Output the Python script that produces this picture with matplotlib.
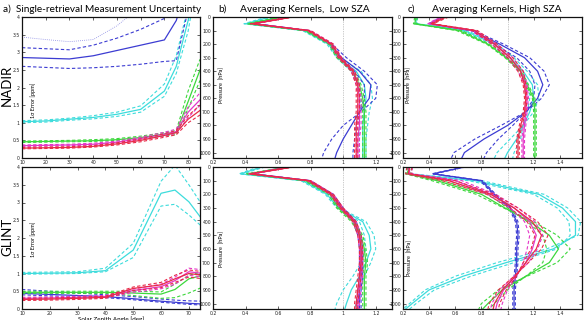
import matplotlib
matplotlib.use("Agg")
import matplotlib.pyplot as plt
from matplotlib.ticker import FormatStrFormatter

# ---- data ----
# each entry: (solid, dashed_a, dashed_b)
nadir_sza = [10, 20, 30, 40, 50, 60, 70, 75, 80, 85]
nadir_err = {
    "cyan": ([1.03, 1.05, 1.10, 1.15, 1.24, 1.38, 1.90, 2.60, 3.90, 5.5],
             [1.06, 1.08, 1.13, 1.20, 1.30, 1.48, 2.10, 2.90, 4.30, 6.0],
             [1.00, 1.02, 1.07, 1.11, 1.18, 1.30, 1.75, 2.40, 3.60, 5.5]),
    "blue": ([2.85, 2.83, 2.81, 2.90, 3.05, 3.20, 3.35, 3.90, 5.0, 6.0],
             [3.13, 3.10, 3.07, 3.20, 3.40, 3.65, 3.96, 4.80, 6.0, 7.0],
             [2.60, 2.57, 2.54, 2.56, 2.60, 2.66, 2.74, 2.76, 4.2, 6.0]),
    "green": ([0.46, 0.47, 0.48, 0.49, 0.52, 0.58, 0.68, 0.73, 1.60, 2.50],
              [0.48, 0.49, 0.50, 0.52, 0.55, 0.62, 0.72, 0.78, 1.90, 2.80],
              [0.44, 0.45, 0.46, 0.47, 0.50, 0.55, 0.63, 0.66, 1.40, 2.20]),
    "magenta": ([0.35, 0.36, 0.37, 0.39, 0.45, 0.55, 0.68, 0.75, 1.30, 1.65],
                [0.37, 0.38, 0.39, 0.42, 0.48, 0.59, 0.73, 0.82, 1.45, 1.85],
                [0.33, 0.34, 0.35, 0.37, 0.42, 0.51, 0.63, 0.70, 1.15, 1.50]),
    "red": ([0.28, 0.29, 0.30, 0.33, 0.40, 0.50, 0.64, 0.72, 1.10, 1.35],
            [0.30, 0.31, 0.32, 0.35, 0.43, 0.54, 0.69, 0.78, 1.20, 1.50],
            [0.26, 0.27, 0.28, 0.31, 0.37, 0.46, 0.59, 0.66, 1.00, 1.22]),
}
nadir_blue_dotted = [3.43, 3.36, 3.30, 3.36, 3.75, 4.3, 5.0, 6.0, 7.0, 8.0]

glint_sza = [10, 20, 30, 40, 50, 60, 65, 70, 75]
glint_err = {
    "cyan": ([1.00, 1.01, 1.02, 1.08, 1.66, 3.26, 3.35, 3.02, 2.50],
             [1.03, 1.04, 1.05, 1.15, 1.85, 3.60, 4.05, 3.50, 2.90],
             [0.98, 0.99, 1.00, 1.05, 1.45, 2.90, 2.95, 2.65, 2.30]),
    "blue": ([0.44, 0.41, 0.38, 0.35, 0.29, 0.22, 0.19, 0.16, 0.14],
             [0.55, 0.50, 0.45, 0.40, 0.35, 0.28, 0.25, 0.23, 0.22],
             [0.40, 0.37, 0.34, 0.32, 0.26, 0.19, 0.16, 0.13, 0.11]),
    "green": ([0.47, 0.47, 0.47, 0.47, 0.45, 0.42, 0.55, 0.85, 0.95],
              [0.50, 0.50, 0.50, 0.50, 0.50, 0.48, 0.70, 0.95, 1.05],
              [0.44, 0.44, 0.44, 0.44, 0.38, 0.30, 0.32, 0.45, 0.62]),
    "magenta": ([0.30, 0.31, 0.33, 0.35, 0.52, 0.63, 0.80, 1.05, 1.00],
                [0.33, 0.34, 0.36, 0.38, 0.56, 0.70, 0.90, 1.15, 1.10],
                [0.27, 0.28, 0.30, 0.32, 0.47, 0.57, 0.70, 0.95, 0.90]),
    "red": ([0.27, 0.28, 0.30, 0.33, 0.58, 0.68, 0.85, 1.00, 0.95],
            [0.30, 0.31, 0.33, 0.36, 0.62, 0.75, 0.95, 1.10, 1.05],
            [0.24, 0.25, 0.27, 0.30, 0.52, 0.60, 0.75, 0.90, 0.85]),
}

pressure = [0, 50, 100, 200, 300, 400, 500, 600, 700, 800, 900, 1000, 1040]

ak_low_nadir = {
    "cyan": ([0.55, 0.40, 0.76, 0.91, 0.97, 1.08, 1.13, 1.14, 1.13, 1.12, 1.12, 1.12, 1.12],
             [0.57, 0.41, 0.77, 0.92, 0.98, 1.11, 1.17, 1.18, 1.16, 1.15, 1.14, 1.14, 1.14],
             [0.53, 0.39, 0.75, 0.90, 0.96, 1.05, 1.10, 1.11, 1.10, 1.10, 1.10, 1.10, 1.10]),
    "blue": ([0.60, 0.46, 0.78, 0.92, 0.99, 1.10, 1.17, 1.16, 1.10, 1.05, 1.00, 0.96, 0.95],
             [0.60, 0.46, 0.78, 0.93, 1.02, 1.13, 1.21, 1.20, 1.11, 1.00, 0.93, 0.88, 0.87],
             [0.60, 0.46, 0.78, 0.92, 0.97, 1.07, 1.13, 1.13, 1.10, 1.08, 1.07, 1.06, 1.06]),
    "green": ([0.62, 0.42, 0.77, 0.92, 0.97, 1.06, 1.10, 1.12, 1.13, 1.13, 1.13, 1.13, 1.13],
              [0.63, 0.43, 0.78, 0.93, 0.98, 1.07, 1.11, 1.13, 1.14, 1.14, 1.14, 1.14, 1.14],
              [0.61, 0.41, 0.76, 0.91, 0.96, 1.05, 1.09, 1.11, 1.12, 1.12, 1.12, 1.12, 1.12]),
    "magenta": ([0.68, 0.45, 0.79, 0.93, 0.98, 1.06, 1.09, 1.10, 1.10, 1.10, 1.09, 1.09, 1.09],
                [0.69, 0.46, 0.80, 0.94, 0.99, 1.07, 1.10, 1.11, 1.11, 1.11, 1.10, 1.10, 1.10],
                [0.67, 0.44, 0.78, 0.92, 0.97, 1.05, 1.08, 1.09, 1.09, 1.09, 1.08, 1.08, 1.08]),
    "red": ([0.69, 0.44, 0.79, 0.93, 0.98, 1.06, 1.09, 1.09, 1.09, 1.08, 1.08, 1.08, 1.08],
            [0.70, 0.45, 0.80, 0.94, 0.99, 1.07, 1.10, 1.10, 1.10, 1.09, 1.09, 1.09, 1.09],
            [0.68, 0.43, 0.78, 0.92, 0.97, 1.05, 1.08, 1.08, 1.08, 1.07, 1.07, 1.07, 1.07]),
}

ak_low_glint = {
    "cyan": ([0.50, 0.37, 0.75, 0.90, 0.97, 1.12, 1.16, 1.17, 1.14, 1.10, 1.05, 1.02, 1.01],
             [0.52, 0.38, 0.76, 0.91, 0.98, 1.14, 1.19, 1.20, 1.17, 1.13, 1.10, 1.08, 1.07],
             [0.48, 0.36, 0.74, 0.89, 0.96, 1.10, 1.13, 1.14, 1.11, 1.06, 1.00, 0.96, 0.95]),
    "blue": ([0.65, 0.44, 0.79, 0.93, 0.99, 1.07, 1.10, 1.11, 1.11, 1.11, 1.10, 1.10, 1.10],
             [0.66, 0.45, 0.80, 0.94, 1.00, 1.08, 1.11, 1.12, 1.12, 1.12, 1.11, 1.11, 1.11],
             [0.64, 0.43, 0.78, 0.92, 0.98, 1.06, 1.09, 1.10, 1.10, 1.10, 1.09, 1.09, 1.09]),
    "green": ([0.67, 0.41, 0.77, 0.92, 0.97, 1.06, 1.11, 1.13, 1.14, 1.13, 1.13, 1.13, 1.13],
              [0.68, 0.42, 0.78, 0.93, 0.98, 1.07, 1.12, 1.14, 1.15, 1.14, 1.14, 1.14, 1.14],
              [0.66, 0.40, 0.76, 0.91, 0.96, 1.05, 1.10, 1.12, 1.13, 1.12, 1.12, 1.12, 1.12]),
    "magenta": ([0.68, 0.43, 0.79, 0.93, 0.99, 1.07, 1.10, 1.11, 1.11, 1.11, 1.10, 1.09, 1.09],
                [0.69, 0.44, 0.80, 0.94, 1.00, 1.08, 1.11, 1.12, 1.12, 1.12, 1.11, 1.10, 1.10],
                [0.67, 0.42, 0.78, 0.92, 0.98, 1.06, 1.09, 1.10, 1.10, 1.10, 1.09, 1.08, 1.08]),
    "red": ([0.69, 0.43, 0.79, 0.93, 0.99, 1.07, 1.10, 1.11, 1.11, 1.10, 1.09, 1.08, 1.08],
            [0.70, 0.44, 0.80, 0.94, 1.00, 1.08, 1.11, 1.12, 1.12, 1.11, 1.10, 1.09, 1.09],
            [0.68, 0.42, 0.78, 0.92, 0.98, 1.06, 1.09, 1.10, 1.10, 1.09, 1.08, 1.07, 1.07]),
}

ak_high_nadir = {
    "cyan": ([0.30, 0.30, 0.67, 0.90, 1.02, 1.12, 1.19, 1.20, 1.17, 1.12, 1.07, 1.00, 0.98],
             [0.31, 0.31, 0.69, 0.92, 1.05, 1.15, 1.23, 1.24, 1.20, 1.12, 1.02, 0.92, 0.90],
             [0.29, 0.29, 0.65, 0.88, 0.99, 1.10, 1.16, 1.17, 1.15, 1.12, 1.10, 1.05, 1.04]),
    "blue": ([0.50, 0.40, 0.73, 0.94, 1.13, 1.23, 1.27, 1.23, 1.14, 1.00, 0.82, 0.67, 0.65],
             [0.50, 0.40, 0.74, 0.97, 1.17, 1.28, 1.32, 1.26, 1.14, 0.95, 0.75, 0.59, 0.57],
             [0.50, 0.40, 0.72, 0.90, 1.07, 1.17, 1.21, 1.20, 1.14, 1.04, 0.93, 0.84, 0.82]),
    "green": ([0.30, 0.29, 0.63, 0.85, 0.99, 1.10, 1.15, 1.20, 1.21, 1.21, 1.21, 1.21, 1.21],
              [0.31, 0.30, 0.65, 0.86, 1.00, 1.11, 1.16, 1.21, 1.22, 1.22, 1.22, 1.22, 1.22],
              [0.29, 0.28, 0.61, 0.84, 0.98, 1.09, 1.14, 1.19, 1.20, 1.20, 1.20, 1.20, 1.20]),
    "magenta": ([0.50, 0.40, 0.74, 0.90, 1.02, 1.10, 1.14, 1.15, 1.14, 1.13, 1.12, 1.12, 1.12],
                [0.52, 0.41, 0.76, 0.92, 1.04, 1.12, 1.15, 1.16, 1.15, 1.14, 1.13, 1.13, 1.13],
                [0.48, 0.39, 0.72, 0.88, 1.00, 1.08, 1.13, 1.14, 1.13, 1.12, 1.11, 1.11, 1.11]),
    "red": ([0.53, 0.42, 0.75, 0.90, 1.02, 1.10, 1.13, 1.14, 1.13, 1.10, 1.08, 1.08, 1.08],
            [0.55, 0.43, 0.77, 0.92, 1.04, 1.12, 1.14, 1.15, 1.14, 1.11, 1.09, 1.09, 1.09],
            [0.51, 0.41, 0.73, 0.88, 1.00, 1.08, 1.12, 1.13, 1.12, 1.09, 1.07, 1.07, 1.07]),
}

ak_high_glint = {
    "cyan": ([0.25, 0.24, 0.75, 1.24, 1.42, 1.52, 1.52, 1.35, 0.99, 0.66, 0.40, 0.27, 0.22],
             [0.27, 0.26, 0.80, 1.28, 1.46, 1.56, 1.54, 1.30, 0.92, 0.60, 0.37, 0.25, 0.20],
             [0.23, 0.22, 0.70, 1.20, 1.38, 1.47, 1.48, 1.38, 1.05, 0.72, 0.44, 0.30, 0.25]),
    "blue": ([0.67, 0.43, 0.80, 0.90, 1.02, 1.07, 1.08, 1.07, 1.07, 1.06, 1.05, 1.05, 1.05],
             [0.68, 0.44, 0.81, 0.91, 1.03, 1.08, 1.09, 1.08, 1.08, 1.07, 1.06, 1.06, 1.06],
             [0.66, 0.42, 0.79, 0.89, 1.01, 1.06, 1.07, 1.06, 1.06, 1.05, 1.04, 1.04, 1.04]),
    "green": ([0.25, 0.23, 0.46, 0.80, 0.98, 1.17, 1.32, 1.39, 1.32, 1.14, 0.96, 0.85, 0.81],
              [0.24, 0.22, 0.42, 0.76, 0.97, 1.20, 1.38, 1.48, 1.38, 1.15, 0.93, 0.80, 0.78],
              [0.27, 0.25, 0.50, 0.85, 1.00, 1.15, 1.27, 1.30, 1.27, 1.14, 1.00, 0.90, 0.86]),
    "magenta": ([0.25, 0.25, 0.60, 0.88, 1.05, 1.17, 1.22, 1.19, 1.14, 1.06, 0.97, 0.92, 0.91],
                [0.27, 0.27, 0.65, 0.91, 1.08, 1.21, 1.27, 1.23, 1.16, 1.05, 0.94, 0.88, 0.87],
                [0.24, 0.24, 0.55, 0.85, 1.02, 1.13, 1.17, 1.15, 1.12, 1.07, 1.00, 0.96, 0.95]),
    "red": ([0.25, 0.24, 0.55, 0.87, 1.05, 1.19, 1.26, 1.22, 1.14, 1.06, 0.96, 0.90, 0.89],
            [0.27, 0.26, 0.60, 0.90, 1.08, 1.23, 1.31, 1.26, 1.16, 1.05, 0.93, 0.86, 0.85],
            [0.23, 0.22, 0.50, 0.84, 1.02, 1.15, 1.21, 1.18, 1.12, 1.07, 0.99, 0.94, 0.93]),
}

colors = {"cyan": "#3ddcdc", "blue": "#3c3cd2", "green": "#3cd83c",
          "magenta": "#e436c8", "red": "#e82a48"}
draw_order = ["cyan", "blue", "green", "magenta", "red"]

plt.rcParams["font.family"] = ["Lato", "DejaVu Sans"]

fig = plt.figure(figsize=(5.86, 3.2), dpi=100)

W, H = 586.0, 320.0


def box(x0, y0, x1, y1):
    return [x0 / W, 1 - y1 / H, (x1 - x0) / W, (y1 - y0) / H]


ax_a1 = fig.add_axes(box(22, 17, 200, 158))
ax_a2 = fig.add_axes(box(22, 167, 200, 309))
ax_b1 = fig.add_axes(box(213, 17, 392, 158))
ax_b2 = fig.add_axes(box(213, 167, 392, 309))
ax_c1 = fig.add_axes(box(403, 17, 582, 158))
ax_c2 = fig.add_axes(box(403, 167, 582, 309))


def style(ax):
    ax.tick_params(direction="in", length=2, width=0.5, labelsize=3.3,
                   top=True, right=True, pad=1.5, colors="#222222")
    for s in ax.spines.values():
        s.set_linewidth(0.9)
        s.set_color("#111111")
    for lab in ax.get_xticklabels() + ax.get_yticklabels():
        lab.set_family("DejaVu Sans")


def draw_err(ax, x, data):
    for name in draw_order:
        mid, da, db = data[name]
        c = colors[name]
        ax.plot(x, da, color=c, lw=0.8, dashes=(3, 2))
        ax.plot(x, db, color=c, lw=0.8, dashes=(3, 2))
        ax.plot(x, mid, color=c, lw=0.9)


def draw_ak(ax, data):
    ax.axvline(1, color="#999999", lw=0.5, ls=(0, (1, 1.5)))
    for name in draw_order:
        mid, da, db = data[name]
        c = colors[name]
        ax.plot(da, pressure, color=c, lw=0.8, dashes=(3, 2))
        ax.plot(db, pressure, color=c, lw=0.8, dashes=(3, 2))
        ax.plot(mid, pressure, color=c, lw=0.9)


# panel a
draw_err(ax_a1, nadir_sza, nadir_err)
ax_a1.plot(nadir_sza, nadir_blue_dotted, color=colors["blue"], lw=0.6,
           ls=(0, (1, 1.5)), alpha=0.6)
draw_err(ax_a2, glint_sza, glint_err)
ax_a1.set_xlim(10, 85)
ax_a1.set_xticks([10, 20, 30, 40, 50, 60, 70, 80])
ax_a2.set_xlim(10, 74)
ax_a2.set_xticks([10, 20, 30, 40, 50, 60, 70])
for ax in (ax_a1, ax_a2):
    ax.set_ylim(0, 4)
    ax.set_yticks([0, 0.5, 1, 1.5, 2, 2.5, 3, 3.5, 4])
    ax.yaxis.set_major_formatter(FormatStrFormatter("%g"))
    style(ax)

ax_a1.text(0.06, 0.41, "1\u03c3 Error [ppm]", transform=ax_a1.transAxes,
           rotation=90, fontsize=4, ha="center", va="center")
ax_a2.text(0.06, 0.49, "1\u03c3 Error [ppm]", transform=ax_a2.transAxes,
           rotation=90, fontsize=4, ha="center", va="center")
ax_a2.set_xlabel("Solar Zenith Angle [deg]", fontsize=4.5, labelpad=0.5)

# panels b, c
draw_ak(ax_b1, ak_low_nadir)
draw_ak(ax_b2, ak_low_glint)
draw_ak(ax_c1, ak_high_nadir)
draw_ak(ax_c2, ak_high_glint)
for ax in (ax_b1, ax_b2):
    ax.set_xlim(0.2, 1.3)
    ax.set_xticks([0.2, 0.4, 0.6, 0.8, 1, 1.2])
for ax in (ax_c1, ax_c2):
    ax.set_xlim(0.2, 1.57)
    ax.set_xticks([0.2, 0.4, 0.6, 0.8, 1, 1.2, 1.4])
for ax in (ax_b1, ax_b2, ax_c1, ax_c2):
    ax.set_ylim(1040, 0)
    ax.set_yticks(range(0, 1001, 100))
    ax.xaxis.set_major_formatter(FormatStrFormatter("%g"))
    style(ax)

for ax, xf, yf in ((ax_b1, 0.05, 0.52), (ax_b2, 0.05, 0.42),
                   (ax_c1, 0.03, 0.52), (ax_c2, 0.035, 0.36)):
    ax.text(xf, yf, "Pressure  [hPa]", transform=ax.transAxes, rotation=90,
            fontsize=4, ha="center", va="center")

# titles and row labels
fig.text(3 / W, 1 - 9 / H, "a)  Single-retrieval Measurement Uncertainty",
         fontsize=7.2, va="center")
fig.text(218 / W, 1 - 9 / H, "b)", fontsize=7.2, va="center")
fig.text(305 / W, 1 - 9 / H, "Averaging Kernels,  Low SZA", fontsize=7.4,
         va="center", ha="center")
fig.text(408 / W, 1 - 9 / H, "c)", fontsize=7.2, va="center")
fig.text(497 / W, 1 - 9 / H, "Averaging Kernels, High SZA", fontsize=7.4,
         va="center", ha="center")
fig.text(7 / W, 1 - 85 / H, "NADIR", fontsize=9.5, rotation=90,
         ha="center", va="center")
fig.text(7 / W, 1 - 237 / H, "GLINT", fontsize=9.5, rotation=90,
         ha="center", va="center")

fig.savefig("out.png", dpi=100)
